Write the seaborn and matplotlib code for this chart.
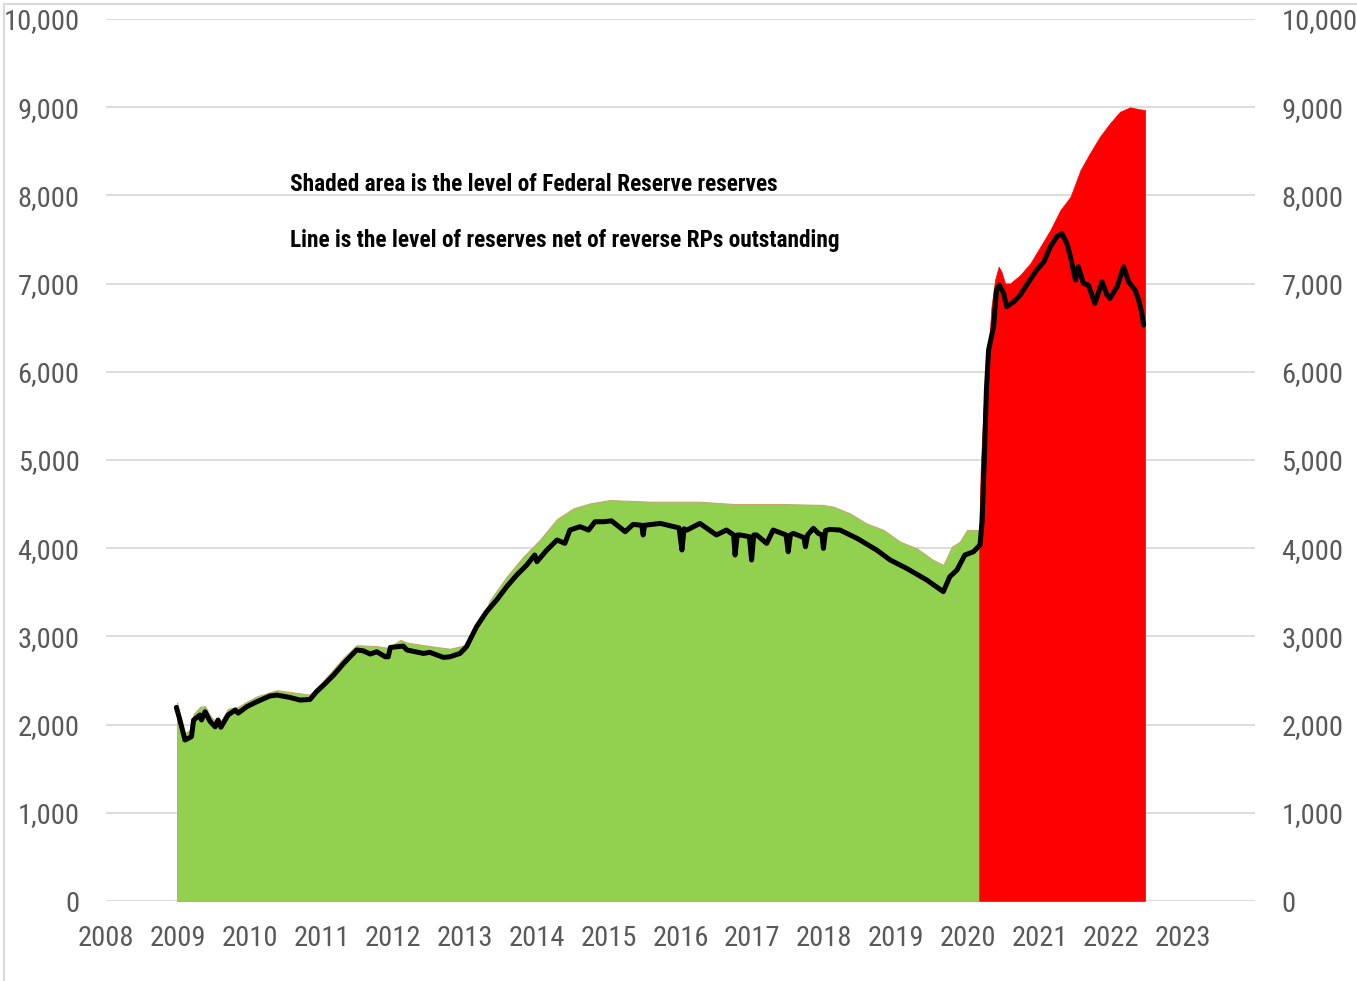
import matplotlib
matplotlib.use("Agg")
import matplotlib.pyplot as plt
import seaborn as sns
import pandas as pd
from matplotlib.lines import Line2D
from matplotlib import font_manager
from matplotlib.textpath import TextPath
from matplotlib.font_manager import FontProperties

# ---------------- data ----------------
area_years = [2008.99, 2009.03, 2009.10, 2009.19, 2009.22, 2009.31, 2009.38, 2009.45, 2009.52,
              2009.60, 2009.70, 2009.84, 2009.96, 2010.10, 2010.38, 2010.56, 2010.84, 2011.03,
              2011.31, 2011.49, 2011.77, 2011.93, 2012.10, 2012.19, 2012.51, 2012.79, 2013.00,
              2013.16, 2013.35, 2013.58, 2013.81, 2014.04, 2014.28, 2014.51, 2014.74, 2015.02,
              2015.58, 2016.27, 2016.74, 2017.43, 2017.99, 2018.13, 2018.36, 2018.59, 2018.83,
              2019.06, 2019.29, 2019.52, 2019.66, 2019.78, 2019.89, 2019.99, 2020.16,
              2020.18, 2020.22, 2020.29, 2020.33, 2020.38, 2020.43, 2020.47, 2020.52, 2020.59,
              2020.73, 2020.87, 2021.01, 2021.15, 2021.29, 2021.43, 2021.57, 2021.70, 2021.84,
              2021.98, 2022.12, 2022.26, 2022.40, 2022.47]
reserves = [2250, 2100, 1900, 1950, 2120, 2200, 2210, 2100, 2040,
            2040, 2180, 2200, 2260, 2320, 2390, 2370, 2340, 2500,
            2760, 2900, 2890, 2870, 2960, 2930, 2890, 2860, 2900,
            3073, 3413, 3677, 3903, 4093, 4330, 4452, 4508, 4546,
            4527, 4527, 4501, 4501, 4490, 4470, 4395, 4281, 4206,
            4073, 3998, 3866, 3810, 4017, 4073, 4206, 4206,
            4900, 5600, 6247, 6738, 7041, 7192, 7134, 7002, 7002,
            7097, 7229, 7418, 7608, 7834, 7985, 8288, 8477, 8666,
            8817, 8949, 8999, 8976, 8968]
split_year = 2020.16  # green before, red after

line_years = [2008.98, 2009.03, 2009.10, 2009.19, 2009.22, 2009.31, 2009.33, 2009.38, 2009.45,
              2009.52, 2009.56, 2009.60, 2009.70, 2009.80, 2009.84, 2009.96, 2010.10, 2010.28,
              2010.38, 2010.56, 2010.70, 2010.84, 2010.93, 2011.03, 2011.17, 2011.31, 2011.49,
              2011.58, 2011.68, 2011.77, 2011.89, 2011.93, 2011.96, 2012.14, 2012.19, 2012.42,
              2012.51, 2012.70, 2012.79, 2012.93, 2013.02, 2013.16, 2013.30, 2013.44, 2013.58,
              2013.72, 2013.86, 2013.97, 2014.00, 2014.14, 2014.28, 2014.39, 2014.46, 2014.60,
              2014.72, 2014.81, 2014.93, 2015.04, 2015.23, 2015.34, 2015.46, 2015.48, 2015.50,
              2015.72, 2015.98, 2016.02, 2016.05, 2016.09, 2016.27, 2016.50, 2016.64, 2016.74,
              2016.76, 2016.79, 2016.83, 2016.96, 2016.99, 2017.02, 2017.06, 2017.20, 2017.29,
              2017.47, 2017.50, 2017.53, 2017.57, 2017.72, 2017.74, 2017.77, 2017.85, 2017.92,
              2017.97, 2017.99, 2018.02, 2018.08, 2018.22, 2018.46, 2018.73, 2018.92, 2019.15,
              2019.43, 2019.66, 2019.75, 2019.85, 2019.96, 2020.08, 2020.17, 2020.20, 2020.23,
              2020.26, 2020.29, 2020.36, 2020.40, 2020.44, 2020.50, 2020.54, 2020.64, 2020.73,
              2020.85, 2020.96, 2021.06, 2021.15, 2021.24, 2021.31, 2021.38, 2021.43, 2021.50,
              2021.54, 2021.61, 2021.68, 2021.77, 2021.87, 2021.94, 2021.98, 2022.08, 2022.17,
              2022.24, 2022.33, 2022.38, 2022.42, 2022.45]
net_reserves = [2195, 2050, 1825, 1863, 2052, 2109, 2052, 2146, 2035,
                1975, 2052, 1970, 2109, 2165, 2130, 2203, 2259, 2324,
                2335, 2308, 2278, 2285, 2372, 2448, 2562, 2694, 2846,
                2837, 2800, 2826, 2769, 2769, 2875, 2890, 2846, 2807,
                2819, 2762, 2769, 2807, 2883, 3110, 3280, 3413, 3564,
                3696, 3810, 3923, 3847, 3980, 4093, 4055, 4206, 4244,
                4206, 4300, 4300, 4310, 4187, 4270, 4260, 4150, 4260,
                4281, 4230, 3980, 4220, 4206, 4281, 4150, 4206, 4150,
                3923, 4150, 4150, 4130, 3866, 4150, 4150, 4055, 4206,
                4150, 3960, 4150, 4168, 4120, 4017, 4150, 4225, 4168,
                4150, 3998, 4200, 4213, 4206, 4111, 3980, 3866, 3771,
                3639, 3507, 3677, 3753, 3923, 3960, 4036, 4300, 5000,
                5800, 6247, 6511, 6927, 6984, 6889, 6738, 6794, 6870,
                7021, 7154, 7248, 7418, 7531, 7569, 7456, 7304, 7041,
                7192, 7002, 6984, 6776, 7021, 6870, 6832, 6964, 7192,
                7021, 6927, 6814, 6681, 6530]

x_ticks = list(range(2008, 2024))
y_ticks = list(range(0, 10001, 1000))
note_1 = "Shaded area is the level of Federal Reserve reserves"
note_2 = "Line is the level of reserves net of reverse RPs outstanding"

# ---------------- font choice (narrow face if one is installed) ----------------
sns.set_theme(style="white")
installed = {f.name for f in font_manager.fontManager.ttflist}
candidates = ["Liberation Sans Narrow", "Arial Narrow", "Roboto Condensed",
              "Open Sans Condensed", "Noto Sans Condensed", "DejaVu Sans Condensed",
              "Liberation Sans"]
family = next((c for c in candidates if c in installed), "DejaVu Sans")
plt.rcParams["font.family"] = [family, "DejaVu Sans"]


def fit_size(text, target_px, max_pt, weight="normal"):
    fp = FontProperties(family=[family, "DejaVu Sans"], weight=weight, size=10)
    w = TextPath((0, 0), text, prop=fp).get_extents().width  # in points at 10pt
    w_px = w * 100 / 72.0
    return min(max_pt, 10 * target_px / w_px)


tick_size = fit_size("10,000", 72, 21)
note_size = fit_size(note_1, 486, 17.5, weight="bold")

W, H = 1357, 981
fig = plt.figure(figsize=(W / 100, H / 100), dpi=100)
ax = fig.add_axes([106 / W, 1 - 901 / H, (1255 - 106) / W, (901 - 19) / H])

area_df = pd.DataFrame({"year": area_years, "reserves": reserves})
green = area_df[area_df["year"] <= split_year]
red = area_df[area_df["year"] >= split_year]

ax.fill_between(green["year"], 0, green["reserves"], color="#92D050",
                edgecolor="#C4A86E", linewidth=0.8, zorder=2)
ax.fill_between(red["year"], 0, red["reserves"], color="#FF0000",
                edgecolor="#FF0000", linewidth=0.5, zorder=2)

line_df = pd.DataFrame({"year": line_years, "net": net_reserves})
sns.lineplot(data=line_df, x="year", y="net", ax=ax, color="black",
             linewidth=3.6, estimator=None, sort=False, zorder=3)

ax.set_xlim(2008, 2024)
ax.set_ylim(0, 10000)
ax.set_xticks(x_ticks)
ax.set_xticklabels([str(t) for t in x_ticks])
ax.set_yticks(y_ticks)
ax.set_yticklabels([f"{t:,}" for t in y_ticks])
ax.grid(axis="y", color="#D9D9D9", linewidth=1.3, zorder=0)
ax.grid(axis="x", visible=False)
ax.set_axisbelow(True)
for s in ax.spines.values():
    s.set_visible(False)
ax.set_xlabel("")
ax.set_ylabel("")
ax.tick_params(axis="both", length=0, labelsize=tick_size, labelcolor="#595959")
ax.tick_params(axis="y", pad=19, labelright=True, right=False)
ax.tick_params(axis="x", pad=17)

ax.text(2010.56, 8118, note_1, fontsize=note_size, fontweight="bold", color="black",
        ha="left", va="center", zorder=5)
ax.text(2010.56, 7494, note_2, fontsize=note_size, fontweight="bold", color="black",
        ha="left", va="center", zorder=5)

# light frame of the chart area (left and top edges visible)
fig.add_artist(Line2D([3.5 / W, 3.5 / W], [0, 1 - 4 / H], color="#D9D9D9", linewidth=1.5,
                      transform=fig.transFigure))
fig.add_artist(Line2D([3.5 / W, 1], [1 - 4 / H, 1 - 4 / H], color="#D9D9D9", linewidth=1.5,
                      transform=fig.transFigure))

fig.savefig("out.png", dpi=100, facecolor="white")
